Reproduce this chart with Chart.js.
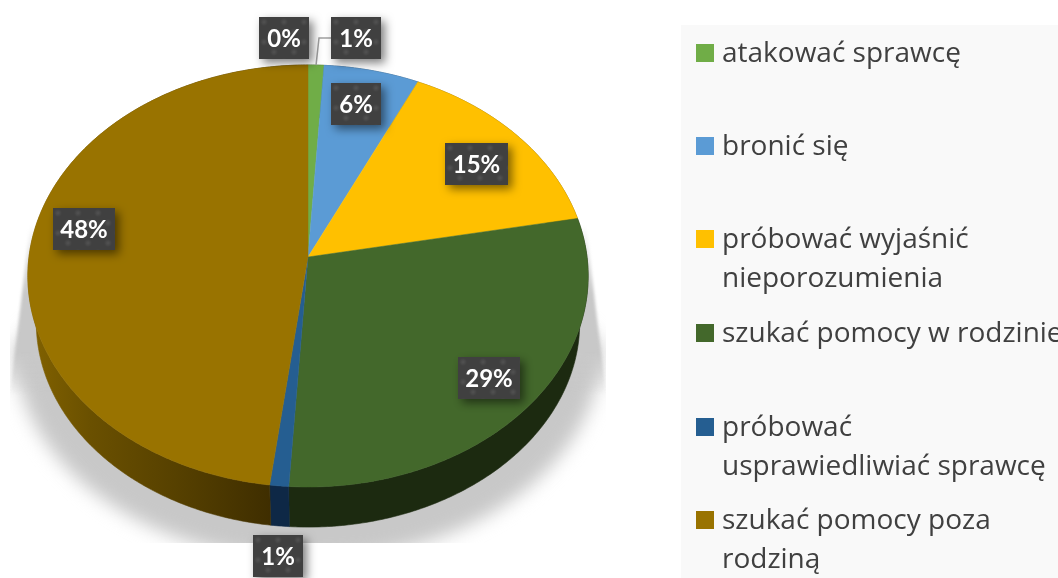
<!DOCTYPE html>
<html lang="pl">
<head>
<meta charset="utf-8">
<style>html,body{margin:0;padding:0;background:#fff}canvas{display:block}</style>
<script src="https://cdn.jsdelivr.net/npm/chart.js@4"></script>
</head>
<body>
<canvas id="c" width="1058" height="578"></canvas>
<script>
// ---- data ----
const categories = ["", "atakować sprawcę", "bronić się", "próbować wyjaśnić nieporozumienia",
  "szukać pomocy w rodzinie", "próbować usprawiedliwiać sprawcę", "szukać pomocy poza rodziną"];
const values = [0, 1, 6, 15, 29, 1, 48];
const colors = ["#a5a5a5", "#70ad47", "#5b9bd5", "#ffc000", "#43682b", "#255e91", "#997300"];
const sideColors = ["#555555", "#3a5a24", "#2f5270", "#806000", "#1c2a10", "#0e2846", "#4a3600"];
const legendLines = [null, ["atakować sprawcę"], ["bronić się"], ["próbować wyjaśnić", "nieporozumienia"],
  ["szukać pomocy w rodzinie"], ["próbować", "usprawiedliwiać sprawcę"], ["szukać pomocy poza", "rodziną"]];
const legendBaselines = [null, [62], [155], [248, 287], [342], [436, 475], [529, 568]];
// label placement: radial factor on the slice's mid angle, plus nudge
const labelR  = [1.2, 1.2, 0.8, 0.8, 0.8, 1.2, 0.8];
const labelDX = [-24, 38.5, -4, 0, 5, 5, -2];
const labelDY = [8, 7.5, -1, 5, 5, 19, -18];
const labelW  = [50, 50, 50, 63, 62, 50, 62];

const PERSP = 0.09, STRETCH = 279 / 209.3, DEPTH = 47, BOTTOM_SCALE = 0.97;

function project(el, angle, r, bottom) {
  const t = angle + Math.PI / 2;
  const R = el.outerRadius;
  const x = r * Math.sin(t), y = -r * Math.cos(t), w = 1 - PERSP * y;
  const s = bottom ? BOTTOM_SCALE : 1;
  return [el.x + s * STRETCH * R * x / w, el.y + (bottom ? DEPTH : 0) + s * R * y / w];
}
function arcPoints(el, bottom) {
  const n = Math.max(2, Math.ceil((el.endAngle - el.startAngle) / 0.01));
  const pts = [];
  for (let i = 0; i <= n; i++) pts.push(project(el, el.startAngle + (el.endAngle - el.startAngle) * i / n, 1, bottom));
  return pts;
}
function trace(ctx, pts) { pts.forEach((p, i) => i ? ctx.lineTo(p[0], p[1]) : ctx.moveTo(p[0], p[1])); }

function dotPattern(ctx) {
  const c = document.createElement("canvas"); c.width = 20; c.height = 20;
  const g = c.getContext("2d");
  g.fillStyle = "#404040"; g.fillRect(0, 0, 20, 20);
  [[5, 5], [15, 15]].forEach(([x, y]) => {
    const rg = g.createRadialGradient(x, y, 0, x, y, 4);
    rg.addColorStop(0, "#525252"); rg.addColorStop(1, "#404040");
    g.fillStyle = rg; g.fillRect(x - 4, y - 4, 8, 8);
  });
  return ctx.createPattern(c, "repeat");
}

const tiltedPie = {
  id: "tiltedPie",
  beforeDatasetsDraw(chart) {
    const ctx = chart.ctx, arcs = chart.getDatasetMeta(0).data;
    // legend panel
    ctx.save();
    ctx.fillStyle = "#f9f9f9"; ctx.fillRect(681, 25, 377, 553);
    ctx.restore();
    // floor shadow: soft ellipse, cut to its image box
    ctx.save();
    ctx.beginPath(); ctx.rect(10, 0, 596, 543); ctx.clip();
    ctx.save();
    ctx.filter = "blur(9px)";
    ctx.fillStyle = "#c8c8c8";
    ctx.beginPath();
    ctx.moveTo(60, 300);
    ctx.lineTo(14, 345);
    ctx.ellipse(308, 345, 294, 215, 0, Math.PI, 0, true);
    ctx.lineTo(556, 300);
    ctx.closePath(); ctx.fill();
    ctx.restore();
    // thin slivers reaching up beside the disc
    ctx.filter = "blur(1.5px)";
    const sl = ctx.createLinearGradient(0, 225, 0, 395);
    sl.addColorStop(0, "rgba(200,200,200,0)");
    sl.addColorStop(0.4, "rgba(200,200,200,1)");
    sl.addColorStop(0.75, "rgba(200,200,200,1)");
    sl.addColorStop(1, "rgba(200,200,200,0)");
    ctx.fillStyle = sl;
    ctx.beginPath();
    ctx.moveTo(30, 225); ctx.lineTo(10, 395); ctx.lineTo(60, 395); ctx.lineTo(60, 225);
    ctx.closePath(); ctx.fill();
    ctx.beginPath();
    ctx.moveTo(586, 225); ctx.lineTo(606, 395); ctx.lineTo(556, 395); ctx.lineTo(556, 225);
    ctx.closePath(); ctx.fill();
    ctx.restore();
    // side walls
    arcs.forEach((el, i) => {
      if (el.endAngle - el.startAngle < 1e-6) return;
      const top = arcPoints(el, false), bot = arcPoints(el, true).reverse();
      ctx.save();
      let fill = sideColors[i];
      if (i === 6) {
        const g = ctx.createLinearGradient(30, 0, 270, 0);
        g.addColorStop(0, "#826200"); g.addColorStop(0.25, "#6a5000");
        g.addColorStop(0.6, "#574100"); g.addColorStop(1, "#3f2e00");
        fill = g;
      }
      ctx.fillStyle = fill; ctx.strokeStyle = fill; ctx.lineWidth = 0.6;
      ctx.beginPath(); trace(ctx, top); bot.forEach(p => ctx.lineTo(p[0], p[1])); ctx.closePath();
      ctx.fill(); ctx.stroke();
      ctx.restore();
    });
    // top faces
    arcs.forEach((el, i) => {
      if (el.endAngle - el.startAngle < 1e-6) return;
      const c = project(el, 0, 0, false);
      ctx.save();
      ctx.fillStyle = colors[i]; ctx.strokeStyle = colors[i]; ctx.lineWidth = 0.5;
      ctx.beginPath(); ctx.moveTo(c[0], c[1]);
      arcPoints(el, false).forEach(p => ctx.lineTo(p[0], p[1]));
      ctx.closePath(); ctx.fill(); ctx.stroke();
      ctx.restore();
    });
    return false;
  },
  afterDraw(chart) {
    const ctx = chart.ctx, arcs = chart.getDatasetMeta(0).data;
    const pattern = dotPattern(ctx);
    // leader line for the small top slice
    const el1 = arcs[1];
    const start = project(el1, (el1.startAngle + el1.endAngle) / 2, 1, false);
    ctx.save();
    ctx.strokeStyle = "#a0a0a0"; ctx.lineWidth = 1.5;
    ctx.beginPath(); ctx.moveTo(start[0], start[1]); ctx.lineTo(319, 38); ctx.lineTo(332, 38); ctx.stroke();
    ctx.restore();
    // value labels
    values.forEach((v, i) => {
      const el = arcs[i];
      const p = project(el, (el.startAngle + el.endAngle) / 2, labelR[i], false);
      const cx = p[0] + labelDX[i], cy = p[1] + labelDY[i];
      const w = labelW[i], h = 42;
      ctx.save();
      ctx.shadowColor = "rgba(0,0,0,0.5)"; ctx.shadowBlur = 10; ctx.shadowOffsetX = 4; ctx.shadowOffsetY = 4;
      ctx.fillStyle = pattern;
      ctx.translate(Math.round(cx - w / 2), Math.round(cy - h / 2));
      ctx.fillRect(0, 0, w, h);
      ctx.shadowColor = "transparent";
      ctx.fillStyle = "#ffffff";
      ctx.font = "bold 24px Lato";
      ctx.textAlign = "center"; ctx.textBaseline = "alphabetic";
      ctx.fillText(v + "%", w / 2, 30);
      ctx.restore();
    });
    // legend
    ctx.save();
    ctx.font = "28px 'Open Sans'";
    ctx.textAlign = "left"; ctx.textBaseline = "alphabetic";
    legendLines.forEach((lines, i) => {
      if (!lines) return;
      ctx.fillStyle = colors[i];
      ctx.fillRect(696, legendBaselines[i][0] - 18, 18, 18);
      ctx.fillStyle = "#404040";
      lines.forEach((t, j) => ctx.fillText(t, 722, legendBaselines[i][j]));
    });
    ctx.restore();
  }
};

new Chart(document.getElementById("c"), {
  type: "pie",
  data: { labels: categories, datasets: [{ data: values, backgroundColor: colors, radius: 209.3, borderWidth: 0 }] },
  options: {
    responsive: false, animation: false,
    layout: { padding: { left: 0, top: 0, right: 442, bottom: 64 } },
    plugins: { legend: { display: false }, tooltip: { enabled: false } }
  },
  plugins: [tiltedPie]
});
</script>
</body>
</html>
